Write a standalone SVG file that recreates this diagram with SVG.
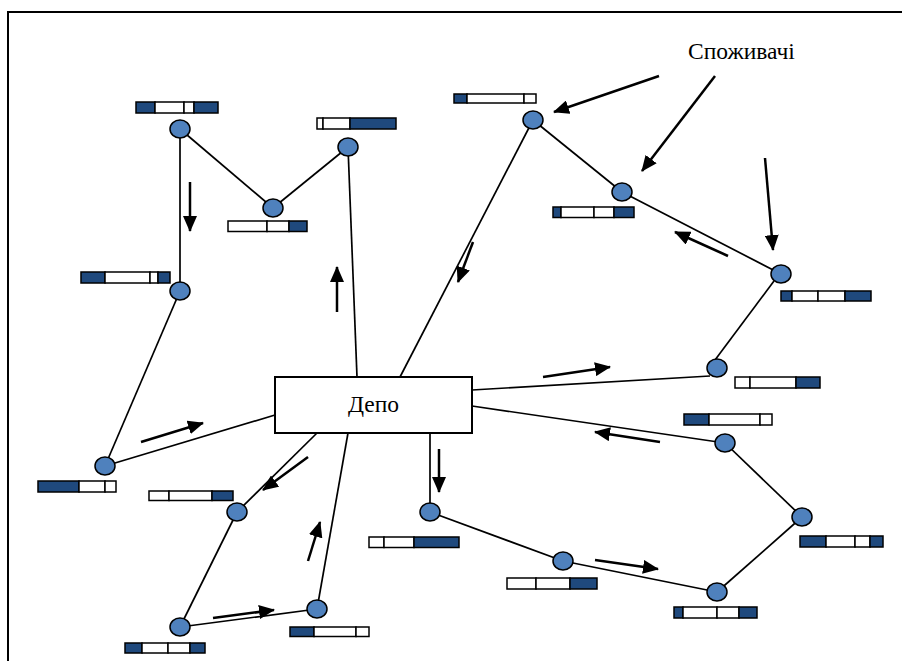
<svg xmlns="http://www.w3.org/2000/svg" width="902" height="661" viewBox="0 0 902 661">
<style>
.frame{fill:none;stroke:#000;stroke-width:2}
.edge{stroke:#000;stroke-width:1.7;fill:none}
.arrow{stroke:#000;stroke-width:2.5;fill:none;marker-end:url(#ah)}
.node{fill:#4f81bd;stroke:#000;stroke-width:1.5}
.d{fill:#1f497d;stroke:#000;stroke-width:1.5}
.w{fill:#fff;stroke:#000;stroke-width:1.5}
.depot{fill:#fff;stroke:#000;stroke-width:2}
.lbl{font-family:"Liberation Serif","Times New Roman",serif;font-size:23.5px;fill:#000}
</style>
<defs>
<marker id="ah" viewBox="0 0 16 14" refX="15" refY="7" markerWidth="16" markerHeight="14" markerUnits="userSpaceOnUse" orient="auto">
<path d="M0,0 L16,7 L0,14 z" fill="#000"/>
</marker>
</defs>
<rect class="frame" x="8" y="12" width="900" height="660"/>
<g id="connectors">
<line class="edge" x1="180" y1="129" x2="273" y2="208"/>
<line class="edge" x1="273" y1="208" x2="348" y2="147"/>
<line class="edge" x1="180" y1="129" x2="180" y2="291"/>
<line class="edge" x1="180" y1="291" x2="105" y2="466"/>
<line class="edge" x1="105" y1="466" x2="275" y2="415"/>
<line class="edge" x1="348" y1="147" x2="357" y2="377"/>
<line class="edge" x1="533" y1="120" x2="400" y2="377"/>
<line class="edge" x1="533" y1="120" x2="622" y2="192"/>
<line class="edge" x1="622" y1="192" x2="781" y2="274"/>
<line class="edge" x1="774" y1="281" x2="715" y2="360"/>
<line class="edge" x1="472" y1="390" x2="710" y2="376"/>
<line class="edge" x1="472" y1="406" x2="725" y2="443"/>
<line class="edge" x1="725" y1="443" x2="802" y2="517"/>
<line class="edge" x1="802" y1="517" x2="717" y2="592"/>
<line class="edge" x1="717" y1="592" x2="563" y2="561"/>
<line class="edge" x1="563" y1="561" x2="430" y2="512"/>
<line class="edge" x1="430" y1="433" x2="430" y2="512"/>
<line class="edge" x1="317" y1="433" x2="237" y2="512"/>
<line class="edge" x1="237" y1="512" x2="180" y2="627"/>
<line class="edge" x1="180" y1="627" x2="317" y2="609"/>
<line class="edge" x1="317" y1="609" x2="348" y2="433"/>
<line class="arrow" x1="190" y1="182" x2="190" y2="231"/>
<line class="arrow" x1="337" y1="312" x2="337" y2="267"/>
<line class="arrow" x1="659" y1="76" x2="554" y2="112"/>
<line class="arrow" x1="715" y1="76" x2="642" y2="171"/>
<line class="arrow" x1="765" y1="158" x2="773" y2="250"/>
<line class="arrow" x1="728" y1="256" x2="675" y2="232"/>
<line class="arrow" x1="473" y1="242" x2="458" y2="282"/>
<line class="arrow" x1="543" y1="377" x2="610" y2="367"/>
<line class="arrow" x1="660" y1="442" x2="595" y2="432"/>
<line class="arrow" x1="439" y1="449" x2="439" y2="492"/>
<line class="arrow" x1="595" y1="560" x2="658" y2="569"/>
<line class="arrow" x1="141" y1="442" x2="203" y2="423"/>
<line class="arrow" x1="308" y1="457" x2="263" y2="490"/>
<line class="arrow" x1="308" y1="561" x2="320" y2="522"/>
<line class="arrow" x1="213" y1="618" x2="274" y2="610"/>
</g>
<g id="depot">
<rect class="depot" x="275" y="377" width="197" height="56"/>
<text class="lbl" x="373.5" y="412" text-anchor="middle">Депо</text>
</g>
<g id="consumers-label">
<text class="lbl" x="688" y="59">Споживачі</text>
</g>
<g id="nA"><ellipse class="node" cx="180" cy="129" rx="10" ry="9"/>
<rect class="d" x="136" y="102" width="19" height="11"/><rect class="w" x="155" y="102" width="29" height="11"/><rect class="w" x="184" y="102" width="10" height="11"/><rect class="d" x="194" y="102" width="24" height="11"/></g>
<g id="nB"><ellipse class="node" cx="273" cy="208" rx="10" ry="9"/>
<rect class="w" x="228" y="221" width="39" height="10.5"/><rect class="w" x="267" y="221" width="22" height="10.5"/><rect class="d" x="289" y="221" width="18" height="10.5"/></g>
<g id="nC"><ellipse class="node" cx="348" cy="147" rx="10" ry="9"/>
<rect class="w" x="317" y="118" width="6" height="11"/><rect class="w" x="323" y="118" width="27" height="11"/><rect class="d" x="350" y="118" width="46" height="11"/></g>
<g id="nD"><ellipse class="node" cx="180" cy="291" rx="10" ry="9"/>
<rect class="d" x="81" y="272" width="24" height="11"/><rect class="w" x="105" y="272" width="45" height="11"/><rect class="w" x="150" y="272" width="8" height="11"/><rect class="d" x="158" y="272" width="12" height="11"/></g>
<g id="nE"><ellipse class="node" cx="105" cy="466" rx="10" ry="9"/>
<rect class="d" x="38" y="481" width="41" height="11"/><rect class="w" x="79" y="481" width="26" height="11"/><rect class="w" x="105" y="481" width="11" height="11"/></g>
<g id="nF"><ellipse class="node" cx="533" cy="120" rx="10" ry="9"/>
<rect class="d" x="454" y="94" width="13" height="9"/><rect class="w" x="467" y="94" width="57" height="9"/><rect class="w" x="524" y="94" width="12" height="9"/></g>
<g id="nG"><ellipse class="node" cx="622" cy="192" rx="10" ry="9"/>
<rect class="d" x="553" y="207" width="8" height="10.5"/><rect class="w" x="561" y="207" width="33" height="10.5"/><rect class="w" x="594" y="207" width="20" height="10.5"/><rect class="d" x="614" y="207" width="20" height="10.5"/></g>
<g id="nH"><ellipse class="node" cx="781" cy="274" rx="10" ry="9"/>
<rect class="d" x="781" y="291" width="11" height="10"/><rect class="w" x="792" y="291" width="26" height="10"/><rect class="w" x="818" y="291" width="27" height="10"/><rect class="d" x="845" y="291" width="26" height="10"/></g>
<g id="nI"><ellipse class="node" cx="717" cy="368" rx="10" ry="9"/>
<rect class="w" x="735" y="377" width="15" height="11"/><rect class="w" x="750" y="377" width="46" height="11"/><rect class="d" x="796" y="377" width="24" height="11"/></g>
<g id="nJ"><ellipse class="node" cx="725" cy="443" rx="10" ry="9"/>
<rect class="d" x="684" y="414" width="25" height="11"/><rect class="w" x="709" y="414" width="51" height="11"/><rect class="w" x="760" y="414" width="12" height="11"/></g>
<g id="nK"><ellipse class="node" cx="802" cy="517" rx="10" ry="9"/>
<rect class="d" x="800" y="536" width="26" height="11"/><rect class="w" x="826" y="536" width="29" height="11"/><rect class="w" x="855" y="536" width="15" height="11"/><rect class="d" x="870" y="536" width="13" height="11"/></g>
<g id="nL"><ellipse class="node" cx="717" cy="592" rx="10" ry="9"/>
<rect class="d" x="674" y="607" width="9" height="11"/><rect class="w" x="683" y="607" width="34" height="11"/><rect class="w" x="717" y="607" width="22" height="11"/><rect class="d" x="739" y="607" width="18" height="11"/></g>
<g id="nM"><ellipse class="node" cx="430" cy="512" rx="10" ry="9"/>
<rect class="w" x="369" y="537" width="15" height="10.5"/><rect class="w" x="384" y="537" width="30" height="10.5"/><rect class="d" x="414" y="537" width="45" height="10.5"/></g>
<g id="nN"><ellipse class="node" cx="563" cy="561" rx="10" ry="9"/>
<rect class="w" x="507" y="578" width="29" height="11"/><rect class="w" x="536" y="578" width="34" height="11"/><rect class="d" x="570" y="578" width="27" height="11"/></g>
<g id="nO"><ellipse class="node" cx="237" cy="512" rx="10" ry="9"/>
<rect class="w" x="149" y="491" width="20" height="9.5"/><rect class="w" x="169" y="491" width="43" height="9.5"/><rect class="d" x="212" y="491" width="21" height="9.5"/></g>
<g id="nP"><ellipse class="node" cx="180" cy="627" rx="10" ry="9"/>
<rect class="d" x="125" y="643" width="17" height="10"/><rect class="w" x="142" y="643" width="26" height="10"/><rect class="w" x="168" y="643" width="22" height="10"/><rect class="d" x="190" y="643" width="15" height="10"/></g>
<g id="nQ"><ellipse class="node" cx="317" cy="609" rx="10" ry="9"/>
<rect class="d" x="290" y="627" width="24" height="9.5"/><rect class="w" x="314" y="627" width="42" height="9.5"/><rect class="w" x="356" y="627" width="13" height="9.5"/></g>
</svg>
